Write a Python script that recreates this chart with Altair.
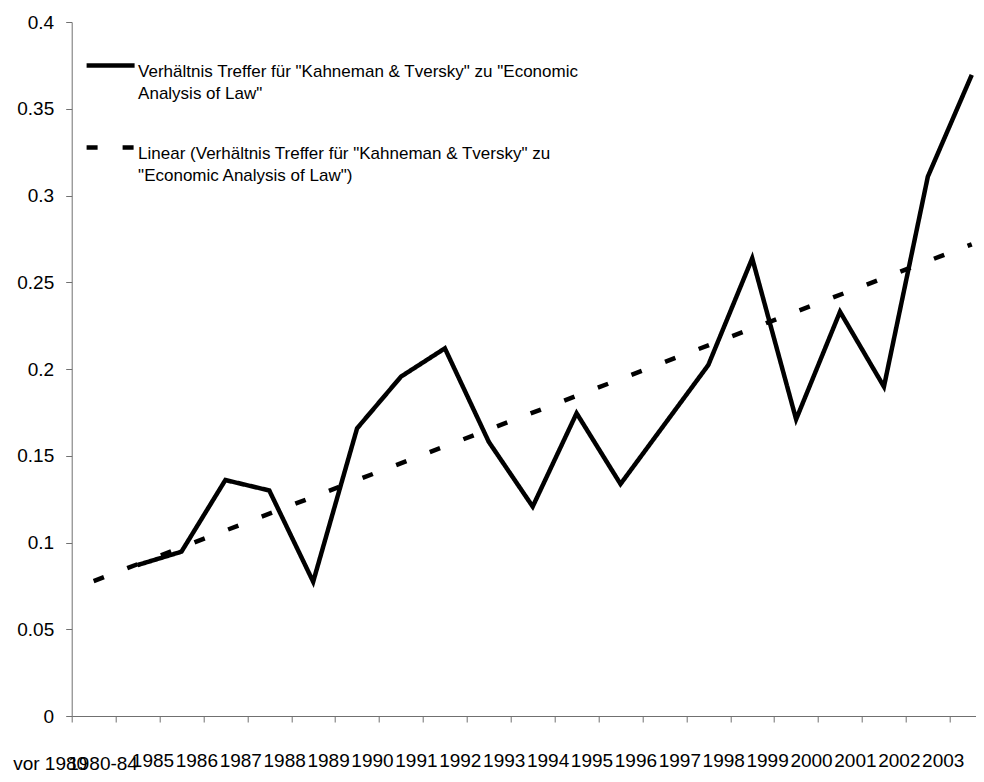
import json
import altair as alt
import pandas as pd

categories = ["vor 1980", "1980-84", "1985", "1986", "1987", "1988", "1989", "1990",
              "1991", "1992", "1993", "1994", "1995", "1996", "1997", "1998", "1999",
              "2000", "2001", "2002", "2003"]
ratio = [None, 0.087, 0.0947, 0.136, 0.130, 0.0774, 0.1658, 0.1956, 0.2119, 0.158,
         0.1207, 0.1745, 0.1337, 0.168, 0.2023, 0.2638, 0.171, 0.233, 0.1898, 0.3109, 0.3695]
y_ticks = [0, 0.05, 0.1, 0.15, 0.2, 0.25, 0.3, 0.35, 0.4]
series_names = [
    'Verhältnis Treffer für "Kahneman & Tversky" zu "Economic Analysis of Law"',
    'Linear (Verhältnis Treffer für "Kahneman & Tversky" zu "Economic Analysis of Law")',
]
legend_lines = [
    ['Verhältnis Treffer für "Kahneman & Tversky" zu "Economic', 'Analysis of Law"'],
    ['Linear (Verhältnis Treffer für "Kahneman & Tversky" zu', '"Economic Analysis of Law")'],
]

df = pd.DataFrame({
    "idx": list(range(len(categories))),
    "cat": categories,
    "ratio": ratio,
    "series": series_names[0],
})

FONT = "Liberation Sans, Arial, sans-serif"
AXIS_COLOR = "#707070"

label_expr = (
    f"datum.label == {json.dumps(series_names[0])} ? {json.dumps(legend_lines[0])} : "
    f"{json.dumps(legend_lines[1])}"
)

x_enc = alt.X(
    "cat:N",
    sort=categories,
    scale=alt.Scale(domain=categories, paddingInner=0, paddingOuter=0),
    axis=alt.Axis(
        title=None,
        tickBand="extent",
        tickSize=6,
        tickColor=AXIS_COLOR,
        domainColor=AXIS_COLOR,
        labelFontSize=19,
        labelColor="#000000",
        labelOverlap=False,
        labelBound=False,
        labelFlush=False,
        labelAngle=0,
        labelAlign="center",
        labelBaseline="top",
        labelOffset={"condition": [
            {"test": "datum.value === 'vor 1980'", "value": -44},
            {"test": "datum.value === '1980-84'", "value": -35},
        ], "value": -29},
        labelPadding={"condition": [
            {"test": "datum.value === 'vor 1980' || datum.value === '1980-84'", "value": 32},
        ], "value": 29.4},
    ),
)
y_enc = alt.Y(
    "ratio:Q",
    scale=alt.Scale(domain=[0, 0.4]),
    axis=alt.Axis(
        title=None,
        values=y_ticks,
        format="~g",
        grid=False,
        tickSize=6,
        tickColor=AXIS_COLOR,
        domainColor=AXIS_COLOR,
        labelFontSize=19,
        labelColor="#000000",
        labelPadding=12,
    ),
)
dash_enc = alt.StrokeDash(
    "series:N",
    scale=alt.Scale(domain=series_names, range=[[1, 0], [11, 25]]),
    legend=alt.Legend(
        title=None,
        orient="none",
        legendX=12.4,
        legendY=15.2,
        symbolType="M-1,0.08H1",
        symbolSize=2304,
        symbolStrokeWidth=4.5,
        symbolStrokeColor="#000000",
        symbolFillColor="transparent",
        labelFontSize=17,
        labelBaseline="top",
        labelOffset=1,
        labelLimit=0,
        rowPadding=17,
        labelExpr=label_expr,
    ),
)

base = alt.Chart(df)

actual = base.mark_line(color="#000000", strokeWidth=4.5, strokeCap="butt", strokeJoin="miter").transform_filter(
    "isValid(datum.ratio)"
).encode(x=x_enc, y=y_enc, strokeDash=dash_enc)

trend = base.mark_line(color="#000000", strokeWidth=4.5, strokeCap="butt").transform_filter(
    "isValid(datum.ratio)"
).transform_regression(
    "idx", "ratio", method="linear", extent=[0, len(categories) - 1]
).transform_calculate(
    cat=f"{json.dumps(categories)}[round(datum.idx)]",
    series=json.dumps(series_names[1]),
).encode(x=x_enc, y=y_enc, strokeDash=dash_enc)

chart = alt.layer(actual, trend).properties(
    width=922,
    height=694,
    autosize=alt.AutoSizeParams(type="none"),
    padding={"left": 63.7, "top": 14, "right": -17.7, "bottom": 58},
    background="#ffffff",
).configure(
    font=FONT,
    style={"guide-label": {"lineHeight": 22}},
).configure_view(stroke=None)

chart.save("out.html", embed_options={"renderer": "svg", "actions": False})
